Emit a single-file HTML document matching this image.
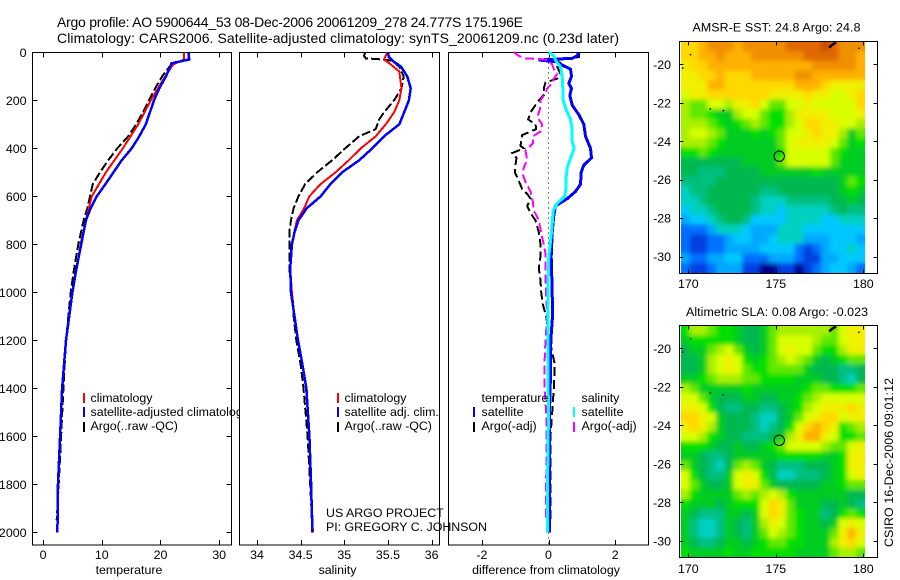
<!DOCTYPE html>
<html>
<head>
<meta charset="utf-8">
<title>Argo profile chart</title>
<style>
html,body{margin:0;padding:0;background:#fff;width:900px;height:580px;overflow:hidden}
svg{display:block}
text{font-family:"Liberation Sans",sans-serif;font-size:12.4px;fill:#000}
.title{font-size:14px}
</style>
</head>
<body>
<svg id="chart" xmlns="http://www.w3.org/2000/svg" width="900" height="580" viewBox="0 0 900 580">
  <defs>
    <clipPath id="clip-temp"><rect x="0" y="0" width="239.5" height="580"/></clipPath>
    <filter id="soft-cells" x="-5%" y="-5%" width="110%" height="110%"><feGaussianBlur stdDeviation="2.4"/></filter>
  </defs>
  <rect x="0" y="0" width="900" height="580" fill="#fff"/>
  <g id="marks"></g>
  <text class="title" x="57" y="27" textLength="466">Argo profile: AO 5900644_53 08-Dec-2006 20061209_278 24.777S 175.196E</text>
  <text class="title" x="57" y="43" textLength="562">Climatology: CARS2006. Satellite-adjusted climatology: synTS_20061209.nc (0.23d later)</text>
  <text x="129" y="574" text-anchor="middle">temperature</text>
  <text x="337.5" y="574" text-anchor="middle">salinity</text>
  <text x="546" y="574" text-anchor="middle">difference from climatology</text>
  <g clip-path="url(#clip-temp)">
    <rect x="83" y="393" width="2" height="10" fill="#f00"/>
    <text x="90.5" y="402">climatology</text>
    <rect x="83" y="407" width="2" height="10" fill="#00f"/>
    <text x="90.5" y="416">satellite-adjusted climatology</text>
    <rect x="83" y="422" width="2" height="10" fill="#000"/>
    <text x="90.5" y="430">Argo(..raw -QC)</text>
  </g>
  <g>
    <rect x="337" y="393" width="2" height="10" fill="#f00"/>
    <text x="344.5" y="402">climatology</text>
    <rect x="337" y="407" width="2" height="10" fill="#00f"/>
    <text x="344.5" y="416">satellite adj. clim.</text>
    <rect x="337" y="422" width="2" height="10" fill="#000"/>
    <text x="344.5" y="430">Argo(..raw -QC)</text>
  </g>
  <g>
    <text x="481.5" y="402">temperature</text>
    <rect x="473" y="407" width="2" height="10" fill="#00f"/>
    <text x="481.5" y="416">satellite</text>
    <rect x="473" y="422" width="2" height="10" fill="#000"/>
    <text x="481.5" y="430">Argo(-adj)</text>
    <text x="581.5" y="402">salinity</text>
    <rect x="573" y="407" width="2" height="10" fill="#0ff"/>
    <text x="581.5" y="416">satellite</text>
    <rect x="573" y="422" width="2" height="10" fill="#f0f"/>
    <text x="581.5" y="430">Argo(-adj)</text>
  </g>
  <text x="326" y="517">US ARGO PROJECT</text>
  <text x="326" y="531" textLength="161">PI: GREGORY C. JOHNSON</text>
  <text x="692.5" y="31.5" textLength="168">AMSR-E SST: 24.8 Argo: 24.8</text>
  <text x="686" y="316" textLength="182">Altimetric SLA: 0.08 Argo: -0.023</text>
  <text transform="translate(893,547) rotate(-90)" textLength="169">CSIRO 16-Dec-2006 09:01:12</text>
</svg>
<script>
// ---- shared axis ticks ----
const depthTicks = [0,200,400,600,800,1000,1200,1400,1600,1800,2000];
const tempTicks = [0,10,20,30];
const salTicks = [34,34.5,35,35.5,36];
const diffTicks = [-2,0,2];
const lonTicks = [170,175,180];
const latTicks = [-20,-22,-24,-26,-28,-30];

// ---- temperature profile ----
const tempClimDepth = [0,30,50,100,200,300,400,500,600,700,800,1000,1200,1400,1600,1800,2000];
const tempClimValue = [24,24,22.2,20.8,18.35,16.2,13.6,10.7,8.3,7.3,6.4,5.05,3.85,3.3,2.95,2.6,2.4];
const tempSatDepth = [0,30,46,100,150,200,300,350,400,450,500,550,600,650,700,800,900,1000,1200,1400,1600,1800,2000];
const tempSatValue = [24.75,24.9,21.9,20.95,19.8,18.9,17.5,16.4,15.1,13.4,12,10.6,9.15,8.1,7.3,6.5,5.7,5,3.9,3.24,2.9,2.55,2.45];
const tempArgoDepth = [0,30,45,100,150,200,250,300,350,400,450,500,550,600,650,700,800,900,1000,1200,1400,1600,1800,1950];
const tempArgoValue = [24.8,24.8,22,20.3,19.1,18.05,17,15.85,14.5,12.65,11.1,9.7,8.45,8,7.55,6.9,6,5.3,4.7,3.9,3.46,3.07,2.67,2.33];

// ---- salinity profile ----
const salClimDepth = [0,30,50,80,150,200,250,300,350,400,450,500,550,600,650,700,750,800,900,1000,1100,1200,1300,1400,1600,1800,2000];
const salClimValue = [35.494,35.455,35.53,35.63,35.655,35.63,35.57,35.475,35.36,35.19,35.05,34.9,34.725,34.6,34.54,34.457,34.426,34.4,34.38,34.4,34.43,34.47,34.52,34.57,34.6,34.62,34.64];
const salSatDepth = [0,20,40,60,100,150,200,250,300,350,400,450,500,550,600,650,700,750,800,900,1000,1100,1200,1300,1400,1600,1800,2000];
const salSatValue = [35.5,35.51,35.57,35.65,35.72,35.76,35.74,35.685,35.63,35.455,35.32,35.17,34.975,34.84,34.73,34.57,34.476,34.43,34.4,34.38,34.39,34.43,34.47,34.52,34.565,34.6,34.62,34.635];
const salArgoDepth = [0,15,25,30,35,60,100,150,200,250,280,320,350,400,450,500,550,600,650,700,750,800,900,1000,1100,1200,1300,1400,1600,1800,1950];
const salArgoValue = [35.24,35.225,35.245,35.44,35.55,35.63,35.68,35.655,35.57,35.455,35.4,35.36,35.17,35.01,34.86,34.69,34.55,34.476,34.42,34.39,34.37,34.37,34.37,34.4,34.42,34.45,34.5,34.533,34.58,34.61,34.63];

// ---- difference from climatology ----
const diffTempSatDepth = [0,15,25,32,40,50,70,100,130,150,180,220,260,300,350,400,440,470,500,550,580,610,640,680,750,850,1000,1100,1200,1400,1500,1600,1800,2000];
const diffTempSatValue = [.91,.86,.71,-.29,.26,.36,.66,.69,.61,.69,.64,.71,.91,1.06,1.11,1.26,1.29,1.06,.98,.96,.81,.56,.21,.16,.11,.08,.11,.12,.07,.05,.03,.03,.03,.03];
const diffSalSatDepth = [0,15,40,60,100,150,200,240,280,320,370,400,430,480,520,560,600,630,660,750,850,1000,1200,1300,1500,1800,2000];
const diffSalSatValue = [.01,.16,.24,.36,.41,.43,.44,.53,.66,.71,.71,.77,.69,.56,.53,.53,.49,.26,.14,.09,.01,-.02,-.01,-.02,0,-.03,-.03];
const diffTempArgoDepth = [0,20,30,45,60,90,110,125,150,175,200,250,280,300,320,345,390,400,420,440,470,500,530,570,590,610,640,670,700,750,800,850,900,950,1000,1050,1100,1180,1250,1300,1400,1500,1600,1700,1950];
const diffTempArgoValue = [.91,.91,.21,.36,.26,.36,.26,-.09,-.14,-.12,-.29,-.54,-.61,-.39,-.37,-.79,-.84,-.74,-1.09,-.96,-.99,-1.01,-.91,-.79,-.64,-.54,-.64,-.54,-.39,-.29,-.24,-.24,-.29,-.24,-.22,-.17,-.07,.01,.11,.19,.16,.11,.06,.06,.06];
const diffSalArgoDepth = [0,15,25,30,50,70,90,110,130,150,170,200,240,270,300,330,350,380,410,450,480,510,540,580,620,660,700,760,800,840,950,1100,1200,1300,1400,1500,1600,1800,1950];
const diffSalArgoValue = [-1.04,-.89,-.69,-.09,.11,.16,.26,.16,.11,-.04,-.09,-.24,-.26,-.34,-.19,-.24,-.47,-.47,-.69,-.64,-.74,-.77,-.69,-.54,-.47,-.44,-.29,-.21,-.14,-.09,-.09,-.04,-.09,-.12,-.12,-.07,-.06,-.07,-.07];

// ---- satellite maps: colour-level grids, 0.5 degree cells, north to south ----
const sstGrid = [
[14,14,15,16,16,16,15,16,16,16,16,16,17,17,17,17,18,17,16,16,16],
[14,14,15,15,16,15,15,15,16,16,16,16,16,16,17,17,17,17,16,16,15],
[13,14,14,15,15,15,15,15,15,15,15,15,15,15,15,16,16,16,16,16,15],
[13,13,14,14,15,14,14,14,15,15,15,15,15,16,16,15,15,15,15,15,15],
[13,13,13,15,15,14,14,14,14,14,14,14,14,15,15,15,14,13,13,13,13],
[12,13,13,14,14,14,14,14,14,14,13,13,13,13,14,13,13,12,12,13,14],
[11,10,10,12,12,11,13,13,14,12,10,10,12,12,13,12,12,12,12,12,14],
[11,10,10,9,8,8,11,12,12,10,9,9,11,13,13,13,13,12,12,12,13],
[11,11,11,10,9,8,9,10,11,10,9,9,11,12,14,14,13,13,12,12,11],
[11,12,12,11,10,8,8,8,9,8,9,10,12,12,13,14,13,13,11,8,10],
[11,11,11,10,9,8,8,8,8,8,8,10,12,13,13,13,13,12,10,8,9],
[9,9,10,9,8,8,8,8,8,8,8,9,12,12,12,12,12,10,9,8,8],
[7,7,7,7,7,7,7,8,8,8,8,10,12,12,12,12,12,10,8,8,8],
[7,7,6,6,6,7,7,7,7,8,8,8,8,8,8,9,8,8,8,8,8],
[6,6,6,6,7,7,7,7,7,7,7,7,7,7,7,7,7,7,8,10,9],
[5,6,6,7,7,7,7,7,7,6,6,7,7,7,7,7,7,7,8,9,8],
[5,5,6,7,7,7,7,7,6,5,5,5,6,6,6,6,6,7,7,8,7],
[4,5,5,6,7,7,7,7,6,5,5,4,5,5,5,5,5,6,7,6,6],
[3,4,4,5,6,7,7,6,4,4,4,4,5,5,5,5,4,4,5,5,5],
[2,2,2,3,5,5,5,4,3,3,3,5,5,5,4,4,4,4,4,4,4],
[2,1,1,2,2,3,4,4,3,3,4,5,5,5,3,3,3,4,4,4,3],
[2,1,1,2,2,3,3,3,3,4,4,4,4,2,1,2,3,4,4,5,4],
[3,2,2,3,3,4,4,2,2,2,3,3,3,2,1,1,3,3,4,4,4],
[2,1,1,2,3,3,3,1,1,0,0,1,1,0,1,2,3,4,4,3,2]
];
const slaGrid = [
[9,11,11,10,9,9,8,7,7,8,10,11,11,11,11,11,11,10,12,13,13],
[8,9,9,9,9,9,8,7,7,8,10,12,12,12,12,11,10,10,12,13,13],
[7,8,8,10,11,12,10,8,7,8,10,12,13,12,12,10,9,9,11,13,13],
[7,7,8,11,12,13,12,9,8,9,10,11,12,11,10,8,7,8,9,10,10],
[7,7,8,11,12,13,12,10,9,9,10,10,10,10,8,7,7,7,6,6,7],
[8,8,9,10,11,11,11,10,10,9,9,9,9,8,8,8,7,7,6,5,7],
[11,10,8,8,8,8,8,9,8,8,8,8,8,8,9,10,10,9,9,9,10],
[12,12,10,8,7,7,7,8,8,7,7,8,8,9,10,11,12,12,12,12,12],
[13,13,12,9,7,6,6,7,7,6,6,7,8,9,11,12,13,13,13,14,13],
[14,14,13,12,8,7,7,7,6,5,5,7,8,10,12,13,14,14,12,13,13],
[13,14,13,11,8,7,7,7,6,5,6,7,9,12,14,15,14,13,9,10,11],
[12,12,11,9,8,7,7,6,6,6,7,8,11,13,15,15,13,12,9,9,10],
[9,9,9,8,7,7,8,7,7,8,9,10,12,12,12,12,11,10,10,12,13],
[8,8,7,6,6,7,8,8,8,8,8,9,9,9,9,9,8,8,9,13,13],
[10,8,7,6,5,7,10,11,10,8,7,6,6,6,7,7,7,8,9,13,13],
[12,9,7,6,6,8,12,13,12,9,7,5,5,6,6,6,7,8,9,12,13],
[12,10,8,7,7,8,12,13,13,10,8,7,7,7,7,7,8,8,9,10,10],
[11,9,8,8,8,8,10,11,10,11,12,11,9,8,8,8,8,8,8,7,7],
[9,8,8,8,7,8,9,9,9,12,14,13,10,8,8,8,7,7,8,7,6],
[8,7,6,6,6,8,8,7,8,12,14,13,10,9,8,8,6,7,9,10,9],
[8,6,5,5,6,8,7,6,8,11,13,12,10,9,8,8,7,8,12,13,12],
[8,6,5,5,6,8,7,6,8,10,12,11,10,9,8,8,8,10,13,15,13],
[8,7,6,6,7,8,8,7,8,9,10,10,9,9,8,8,8,11,13,14,12],
[9,8,8,8,8,9,8,8,9,9,9,9,9,8,8,8,8,10,11,11,10]
];
const colourLevels = ['#000090','#0040e0','#0070ff','#00a8ff','#00c8ff','#00d0c0','#00c080','#00b850','#00cc20','#00e000','#60e800','#a8f000','#d8ff00','#f0f000','#ffd800','#ffb000','#f09000','#e06800','#c85000'];
const islandLon = [178.05,178.2,178.44];
const islandLat = [-19.13,-19,-18.87];
const isletLon = [179.75,169.68,170.13,171.26,172];
const isletLat = [-19.17,-20.2,-19.5,-22.32,-22.41];
const floatLon = [175.196];
const floatLat = [-24.777];

// ---- helpers ----
const SVGNS = 'http://www.w3.org/2000/svg';
const root = document.getElementById('marks');
function mk(tag, attrs, parent) {
  const el = document.createElementNS(SVGNS, tag);
  for (const k in attrs) el.setAttribute(k, attrs[k]);
  (parent || root).appendChild(el);
  return el;
}
function linear(d0, d1, r0, r1) {
  return function (v) { return r0 + (v - d0) * (r1 - r0) / (d1 - d0); };
}
const yDepth = linear(0, 2000, 52.3, 532.3);
const TOP = 52.5, BOTTOM = 545;

function panel(name, left, right, xScale, xTicks, showDepthTicks) {
  const g = mk('g', {});
  
  
  const bg = mk('rect', {x: left, y: TOP, width: right - left, height: BOTTOM - TOP, fill: '#fff', stroke: '#000', 'stroke-width': 1, 'shape-rendering': 'crispEdges'}, g);
  
  
  xTicks.forEach(function (t) {
    const x = Math.round(xScale(t)) + 0.5;
    const top = mk('line', {x1: x, x2: x, y1: TOP, y2: TOP + 5, stroke: '#000', 'shape-rendering': 'crispEdges'}, g);
    
    
    const bot = mk('line', {x1: x, x2: x, y1: BOTTOM, y2: BOTTOM - 5, stroke: '#000', 'shape-rendering': 'crispEdges'}, g);
    
    
    const lab = mk('text', {x: xScale(t), y: 559, 'text-anchor': 'middle'}, g);
    lab.textContent = String(t);
    
    
  });
  if (showDepthTicks) {
    depthTicks.forEach(function (d) {
      const y = Math.round(yDepth(d)) + 0.5;
      const a = mk('line', {x1: left, x2: left + 5, y1: y, y2: y, stroke: '#000', 'shape-rendering': 'crispEdges'}, g);
      
      
      const b = mk('line', {x1: right, x2: right - 5, y1: y, y2: y, stroke: '#000', 'shape-rendering': 'crispEdges'}, g);
      
      
      const lab = mk('text', {x: 26.5, y: yDepth(d) + 4.5, 'text-anchor': 'end'}, g);
      lab.textContent = String(d);
      
      
    });
  }
  return g;
}
function series(g, name, depths, values, xScale, colour, width, dash) {
  const pts = depths.map(function (d, i) {
    return xScale(values[i]).toFixed(1) + ',' + yDepth(d).toFixed(1);
  }).join(' ');
  const attrs = {points: pts, fill: 'none', stroke: colour, 'stroke-width': width, 'shape-rendering': 'crispEdges', 'stroke-linejoin': 'miter'};
  if (dash) attrs['stroke-dasharray'] = dash;
  const el = mk('polyline', attrs, g);
  
  
}

// ---- profile panels ----
const xTemp = linear(-1.8, 32.1, 32.5, 231.5);
const xSal = linear(33.8, 36.09, 239.5, 439.5);
const xDiff = linear(-3, 3, 448.5, 648.5);

const gTemp = panel('temperature', 32.5, 231.5, xTemp, tempTicks, true);
series(gTemp, 'temperature-argo-line', tempArgoDepth, tempArgoValue, xTemp, '#000', 2, '9,3');
series(gTemp, 'temperature-climatology-line', tempClimDepth, tempClimValue, xTemp, '#f00', 2);
series(gTemp, 'temperature-satellite-line', tempSatDepth, tempSatValue, xTemp, '#00f', 2.5);

const gSal = panel('salinity', 239.5, 439.5, xSal, salTicks, false);
series(gSal, 'salinity-argo-line', salArgoDepth, salArgoValue, xSal, '#000', 2, '9,3');
series(gSal, 'salinity-climatology-line', salClimDepth, salClimValue, xSal, '#f00', 2);
series(gSal, 'salinity-satellite-line', salSatDepth, salSatValue, xSal, '#00f', 2.5);

const gDiff = panel('difference', 448.5, 648.5, xDiff, diffTicks, false);
const zeroLine = mk('line', {x1: xDiff(0), x2: xDiff(0), y1: yDepth(0), y2: BOTTOM, stroke: '#000', 'stroke-width': 1, 'stroke-dasharray': '1,4', 'shape-rendering': 'crispEdges'}, gDiff);


series(gDiff, 'diff-temperature-argo-line', diffTempArgoDepth, diffTempArgoValue, xDiff, '#000', 2, '9,4');
series(gDiff, 'diff-temperature-satellite-line', diffTempSatDepth, diffTempSatValue, xDiff, '#00f', 3);
series(gDiff, 'diff-salinity-argo-line', diffSalArgoDepth, diffSalArgoValue, xDiff, '#f0f', 2, '9,4');
series(gDiff, 'diff-salinity-satellite-line', diffSalSatDepth, diffSalSatValue, xDiff, '#0ff', 3);

// ---- maps ----
function drawMap(name, grid, top, bottom, yLat20, yLat30, labelY) {
  const g = mk('g', {});
  
  
  const xLon = linear(170, 180, 688.3, 863.3);
  const yLat = linear(-20, -30, yLat20, yLat30);
  const left = 679.5, right = 877.5;
  const lon0 = 169.58, lat0 = -18.83, step = 0.5;
  const cells = mk('g', {id: name + '-cells'}, g);
  
  
  grid.forEach(function (row, r) {
    row.forEach(function (level, c) {
      const x0 = xLon(lon0 + c * step), x1 = xLon(lon0 + (c + 1) * step);
      const y0 = yLat(lat0 - r * step), y1 = yLat(lat0 - (r + 1) * step);
      const cell = mk('rect', {x: x0.toFixed(2), y: y0.toFixed(2), width: (x1 - x0 + 0.4).toFixed(2), height: (y1 - y0 + 0.4).toFixed(2), fill: colourLevels[level]}, cells);
      
      
    });
  });
  const clipId = name + '-clip';
  const clip = mk('clipPath', {id: clipId}, g);
  mk('rect', {x: xLon(lon0), y: top, width: xLon(lon0 + 10.5) - xLon(lon0), height: bottom - top}, clip);
  const softWrap = mk('g', {'clip-path': 'url(#' + clipId + ')'}, g);
  
  
  mk('use', {href: '#' + name + '-cells', filter: 'url(#soft-cells)'}, softWrap);
  const coast = mk('polyline', {points: islandLon.map(function (lo, i) { return xLon(lo).toFixed(1) + ',' + yLat(islandLat[i]).toFixed(1); }).join(' '), fill: 'none', stroke: '#000', 'stroke-width': 2.5}, g);
  
  
  isletLon.forEach(function (lo, i) {
    const p = mk('rect', {x: xLon(lo) - 0.75, y: yLat(isletLat[i]) - 0.75, width: 1.5, height: 1.5, fill: '#000'}, g);
    
    
  });
  const frame = mk('rect', {x: left, y: top, width: right - left, height: bottom - top, fill: 'none', stroke: '#000', 'stroke-width': 1, 'shape-rendering': 'crispEdges'}, g);
  
  
  lonTicks.forEach(function (t) {
    const x = Math.round(xLon(t)) + 0.5;
    const a = mk('line', {x1: x, x2: x, y1: top, y2: top + 4, stroke: '#000', 'shape-rendering': 'crispEdges'}, g);
    
    
    const b = mk('line', {x1: x, x2: x, y1: bottom, y2: bottom - 4, stroke: '#000', 'shape-rendering': 'crispEdges'}, g);
    
    
    const lab = mk('text', {x: xLon(t), y: labelY, 'text-anchor': 'middle'}, g);
    lab.textContent = String(t);
    
    
  });
  latTicks.forEach(function (t) {
    const y = Math.round(yLat(t)) + 0.5;
    const a = mk('line', {x1: left, x2: left + 4, y1: y, y2: y, stroke: '#000', 'shape-rendering': 'crispEdges'}, g);
    
    
    const b = mk('line', {x1: right, x2: right - 4, y1: y, y2: y, stroke: '#000', 'shape-rendering': 'crispEdges'}, g);
    
    
    const lab = mk('text', {x: 671, y: yLat(t) + 4.5, 'text-anchor': 'end'}, g);
    lab.textContent = String(t);
    
    
  });
  const marker = mk('circle', {cx: xLon(floatLon[0]), cy: yLat(floatLat[0]), r: 5.2, fill: 'none', stroke: '#000', 'stroke-width': 1}, g);
  
  
}
drawMap('sst', sstGrid, 41.5, 273.5, 64.3, 256.7, 288);
drawMap('sla', slaGrid, 325.5, 557.5, 348.3, 541, 573);
</script>
</body>
</html>
